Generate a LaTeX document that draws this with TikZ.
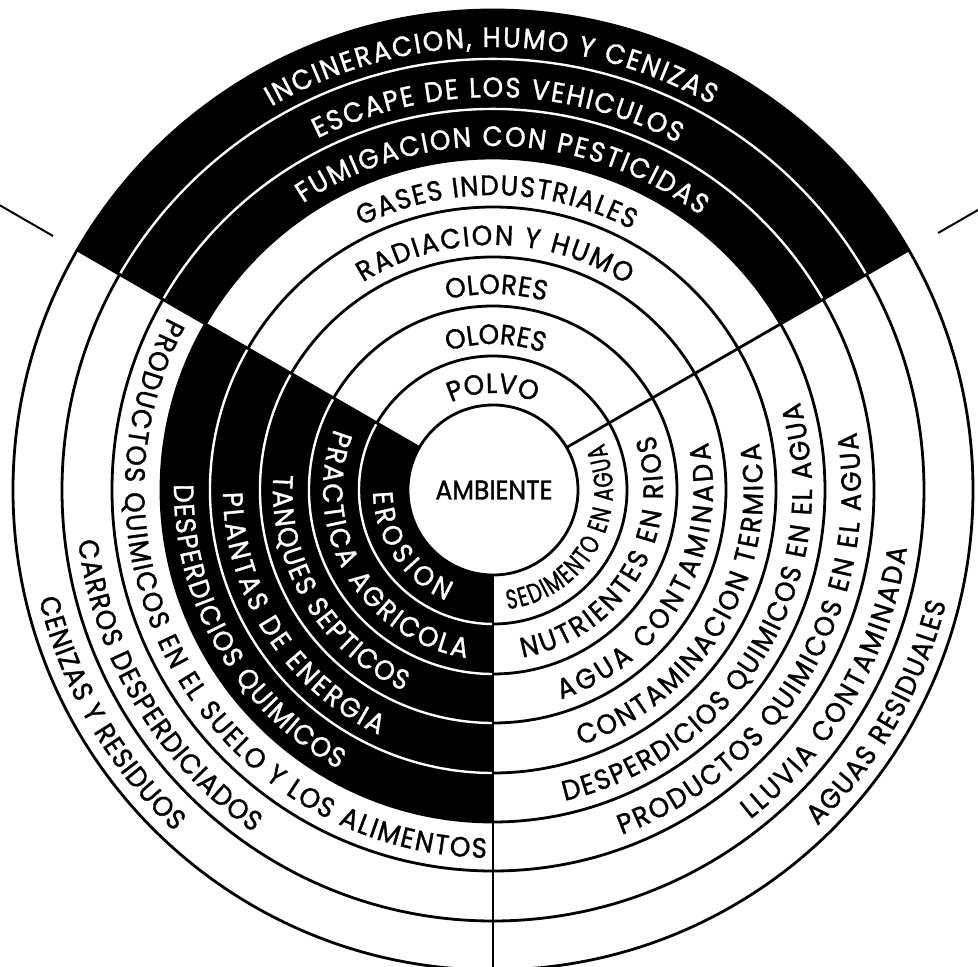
\documentclass[tikz,border=0pt]{standalone}
\usepackage{fontspec}
\setmainfont{Poppins}[FakeBold=1.2, FakeStretch=0.93]
\newfontfamily\condfam[FakeStretch=0.72, FakeBold=1.2]{Poppins}
\usetikzlibrary{decorations.text}
\newcommand\rf{\fontsize{28}{30}\selectfont}
\newcommand\rfw{\color{white}\fontsize{28}{30}\selectfont}
\newcommand\rfc{\condfam\fontsize{27}{30}\selectfont}
\tikzset{
  ring/.style={line width=2.8pt},
  sep/.style={white, line width=2.4pt},
  stray/.style={line width=2pt},
  arctext/.style={decorate, decoration={text along path, text={#1}, text align={fit to path}}},
}
\begin{document}
\begin{tikzpicture}[x=1pt,y=1pt]
\useasboundingbox (-493,-477) rectangle (485,490);
\fill[white] (-493,-477) rectangle (485,490);
% black sectors
\fill[black] (30:332) arc (30:150:332) -- (150:480) arc (150:30:480) -- cycle;
\fill[black] (150:85) arc (150:270:85) -- (270:332) arc (270:150:332) -- cycle;
% circles
\foreach \r in {85,134,184,233,283,332,381,431,480} \draw[ring] (0,0) circle (\r);
% white separators inside black sectors
\foreach \r in {381,431} \draw[sep] (30:\r) arc (30:150:\r);
\foreach \r in {134,184,233,283} \draw[sep] (150:\r) arc (150:270:\r);
% radial dividers
\coordinate (a30i) at (30:85);  \coordinate (a30o) at (30:480);
\coordinate (a150i) at (150:85); \coordinate (a150o) at (150:480);
\coordinate (a270i) at (270:85); \coordinate (a270o) at (270:480);
\draw[ring] (a30i) -- (a30o);
\draw[ring] (a150i) -- (a150o);
\draw[ring] (a270i) -- (a270o);
% stray outer lines
\coordinate (sl1) at (150:508); \coordinate (sl2) at (150:572);
\coordinate (sr1) at (30:514);  \coordinate (sr2) at (30:565);
\draw[stray] (sl1) -- (sl2);
\draw[stray] (sr1) -- (sr2);
% centre
\node[font=\fontsize{27}{30}\selectfont] (amb) at (1,0) {AMBIENTE};
% top sector (clockwise, letters outward)
\path[arctext={|\rf|POLVO}] (115.5:97) arc (115.5:64.5:97);
\path[arctext={|\rf|OLORES}] (108:146) arc (108:70:146);
\path[arctext={|\rf|OLORES}] (103.5:196) arc (103.5:74.5:196);
\path[arctext={|\rf|RADIACION Y HUMO}] (122:245) arc (122:57:245);
\path[arctext={|\rf|GASES INDUSTRIALES}] (116.5:295) arc (116.5:62:295);
\path[arctext={|\rfw|FUMIGACION CON PESTICIDAS}] (123.5:344) arc (123.5:53:344);
\path[arctext={|\rfw|ESCAPE DE LOS VEHICULOS}] (116.5:393) arc (116.5:62:393);
\path[arctext={|\rfw|INCINERACION, HUMO Y CENIZAS}] (120:443) arc (120:60.5:443);
% right sector (counter-clockwise, letters inward)
\path[arctext={|\rfc|SEDIMENTO EN AGUA}] (-83:120) arc (-83:23:120);
\path[arctext={|\rf|NUTRIENTES EN RIOS}] (-80:170) arc (-80:19:170);
\path[arctext={|\rf|AGUA CONTAMINADA}] (-72:220) arc (-72:12.5:220);
\path[arctext={|\rf|CONTAMINACION TERMICA}] (-71:270) arc (-71:10:270);
\path[arctext={|\rf|DESPERDICIOS QUIMICOS EN EL AGUA}] (-77:319) arc (-77:16:319);
\path[arctext={|\rf|PRODUCTOS QUIMICOS EN EL AGUA}] (-69.5:368) arc (-69.5:9:368);
\path[arctext={|\rf|LLUVIA CONTAMINADA}] (-52:418) arc (-52:-8:418);
\path[arctext={|\rf|AGUAS RESIDUALES}] (-46:467) arc (-46:-14:467);
% left sector (counter-clockwise, letters inward)
\path[arctext={|\rfw|EROSION}] (181:120) arc (181:247:120);
\path[arctext={|\rfw|PRACTICA AGRICOLA}] (159:170) arc (159:261:170);
\path[arctext={|\rfw|TANQUES SEPTICOS}] (176:220) arc (176:246:220);
\path[arctext={|\rfw|PLANTAS DE ENERGIA}] (180.5:270) arc (180.5:245:270);
\path[arctext={|\rfw|DESPERDICIOS QUIMICOS}] (179:319) arc (179:241:319);
\path[arctext={|\rf|PRODUCTOS QUIMICOS EN EL SUELO Y LOS ALIMENTOS}] (152:368) arc (152:269:368);
\path[arctext={|\rf|CARROS DESPERDICIADOS}] (187:418) arc (187:235:418);
\path[arctext={|\rf|CENIZAS Y RESIDUOS}] (193.5:467) arc (193.5:227:467);
\end{tikzpicture}
\end{document}
